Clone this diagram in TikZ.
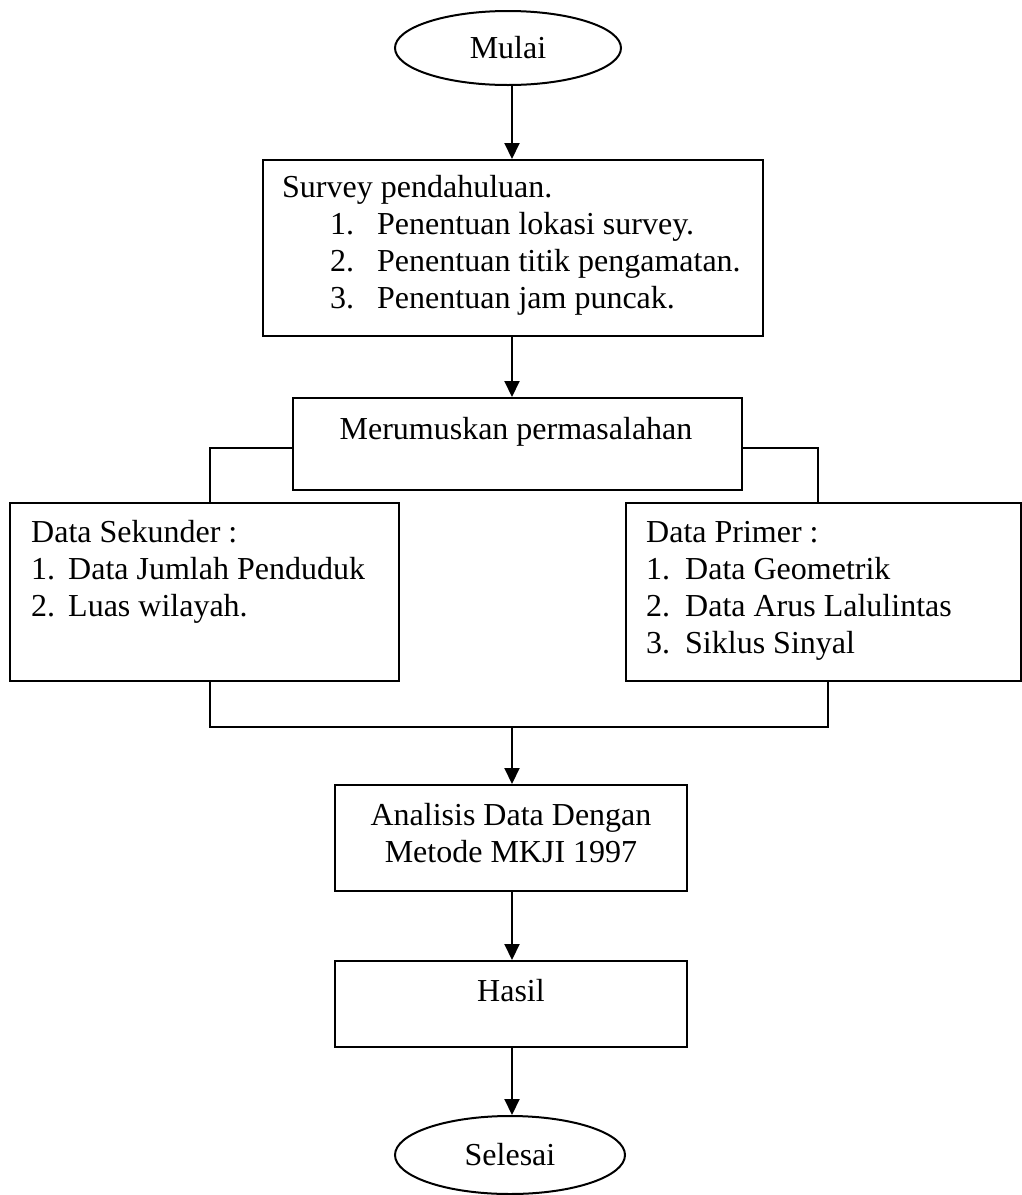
\documentclass[tikz,border=0pt]{standalone}
\usepackage{fontspec}
\setmainfont{Liberation Serif}
\usetikzlibrary{shapes.geometric,arrows.meta,calc}
\begin{document}
\begin{tikzpicture}[x=1pt,y=-1pt,
  every node/.style={font=\fontsize{32}{37}\selectfont},
  box/.style={draw,line width=2pt,anchor=north west,inner sep=0pt},
  oval/.style={draw,ellipse,line width=2pt,inner sep=0pt},
  txt/.style={anchor=base west,inner sep=0pt},
  ln/.style={line width=2pt},
  arr/.style={line width=2pt,-{Triangle[length=16pt,width=15pt]}}]
\useasboundingbox (0,0) rectangle (1021,1195);
% shapes
\node[oval,minimum width=226pt,minimum height=74pt] (mulai) at (508,48) {Mulai};
\node[box,minimum width=500pt,minimum height=176pt] (survey) at (262,159) {};
\node[box,minimum width=449pt,minimum height=92pt] (merum) at (292,397) {};
\node[box,minimum width=389pt,minimum height=178pt] (sek) at (9,502) {};
\node[box,minimum width=395pt,minimum height=178pt] (pri) at (625,502) {};
\node[box,minimum width=352pt,minimum height=106pt] (anal) at (334,784) {};
\node[box,minimum width=352pt,minimum height=86pt] (hasil) at (334,960) {};
\node[oval,minimum width=230pt,minimum height=78pt] (selesai) at (510,1155) {Selesai};
% texts
\node[txt] (s0) at (282,197) {Survey pendahuluan.};
\node[txt] (s1n) at (330,234) {1.};
\node[txt] (s1) at (377,234) {Penentuan lokasi survey.};
\node[txt] (s2n) at (330,271) {2.};
\node[txt] (s2) at (377,271) {Penentuan titik pengamatan.};
\node[txt] (s3n) at (330,308) {3.};
\node[txt] (s3) at (377,308) {Penentuan jam puncak.};
\node[anchor=base,inner sep=0pt] (mt) at (516,439) {Merumuskan permasalahan};
\node[txt] (k0) at (31,542) {Data Sekunder :};
\node[txt] (k1n) at (31,579) {1.};
\node[txt] (k1) at (68,579) {Data Jumlah Penduduk};
\node[txt] (k2n) at (31,616) {2.};
\node[txt] (k2) at (68,616) {Luas wilayah.};
\node[txt] (p0) at (646,542) {Data Primer :};
\node[txt] (p1n) at (646,579) {1.};
\node[txt] (p1) at (685,579) {Data Geometrik};
\node[txt] (p2n) at (646,616) {2.};
\node[txt] (p2) at (685,616) {Data Arus Lalulintas};
\node[txt] (p3n) at (646,653) {3.};
\node[txt] (p3) at (685,653) {Siklus Sinyal};
\node[anchor=base,inner sep=0pt] (a1) at (511,825) {Analisis Data Dengan};
\node[anchor=base,inner sep=0pt] (a2) at (511,862) {Metode MKJI 1997};
\node[anchor=base,inner sep=0pt] (ht) at (511,1001) {Hasil};
% connector points
\coordinate (bl) at (210,448);
\coordinate (br) at (818,448);
\coordinate (jl) at (210,727);
\coordinate (jr) at (828,727);
\coordinate (jm) at (512,727);
% connectors
\draw[arr] (mulai.south -| jm) -- (survey.north -| jm);
\draw[arr] (survey.south -| jm) -- (merum.north -| jm);
\draw[ln] (merum.west |- bl) -| (sek.north -| bl);
\draw[ln] (merum.east |- br) -| (pri.north -| br);
\draw[ln] (sek.south -| jl) -- (jl) -- (jr) -- (pri.south -| jr);
\draw[arr] (jm) -- (anal.north -| jm);
\draw[arr] (anal.south -| jm) -- (hasil.north -| jm);
\draw[arr] (hasil.south -| jm) -- (selesai.north -| jm);
\end{tikzpicture}
\end{document}
